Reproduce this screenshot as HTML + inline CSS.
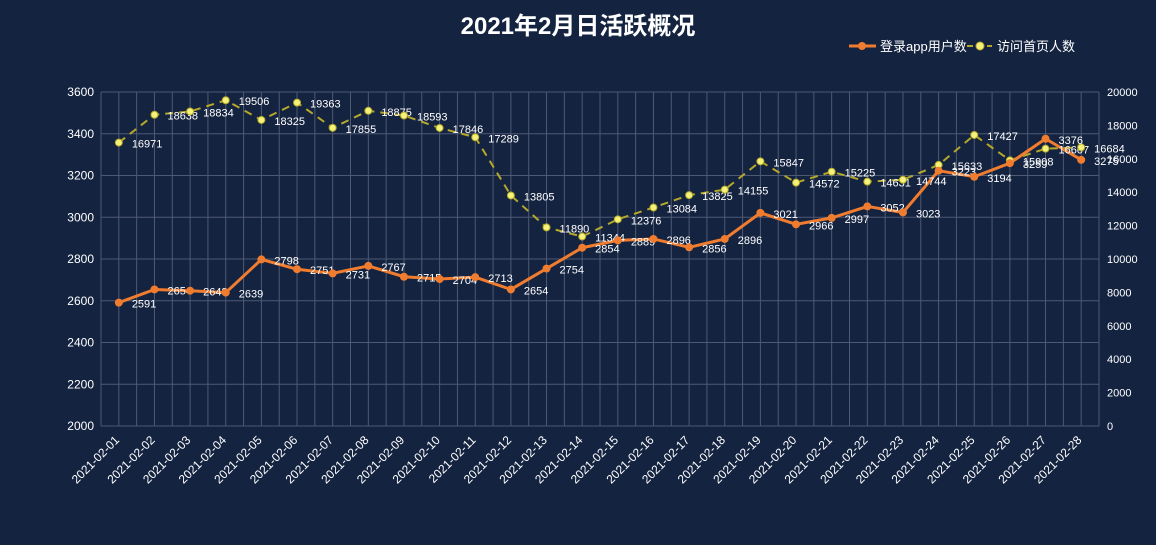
<!DOCTYPE html>
<html><head><meta charset="utf-8">
<style>
html,body{margin:0;padding:0;background:#142340;}
svg text{font-family:"Liberation Sans","Noto Sans CJK SC",sans-serif;}
</style></head>
<body>
<svg id="chart" width="1156" height="540" xmlns="http://www.w3.org/2000/svg">
<rect width="1156" height="540" fill="#142340"/>
<text x="578" y="34" text-anchor="middle" font-size="24" font-weight="bold" fill="#fff">2021年2月日活跃概况</text>
<g>
  <g>
    <line x1="849" y1="46" x2="876" y2="46" stroke="#f07c2f" stroke-width="3"/>
    <circle cx="862" cy="46" r="4" fill="#f07c2f"/>
    <text x="880" y="51" font-size="13" fill="#fff">登录app用户数</text>
  </g>
  <g>
    <line x1="967" y1="46" x2="992" y2="46" stroke="#b5a82a" stroke-width="2" stroke-dasharray="6,4"/>
    <circle cx="980" cy="46" r="4" fill="#f4f27a" stroke="#b5a82a"/>
    <text x="997" y="51" font-size="13" fill="#fff">访问首页人数</text>
  </g>
</g>
<g id="grid"></g>
<g id="axes"></g>
<g id="series"></g>
</svg>
<script>
const categories = ["2021-02-01","2021-02-02","2021-02-03","2021-02-04","2021-02-05","2021-02-06","2021-02-07","2021-02-08","2021-02-09","2021-02-10","2021-02-11","2021-02-12","2021-02-13","2021-02-14","2021-02-15","2021-02-16","2021-02-17","2021-02-18","2021-02-19","2021-02-20","2021-02-21","2021-02-22","2021-02-23","2021-02-24","2021-02-25","2021-02-26","2021-02-27","2021-02-28"];
const loginUsers = [2591,2654,2648,2639,2798,2751,2731,2767,2715,2704,2713,2654,2754,2854,2889,2896,2856,2896,3021,2966,2997,3052,3023,3223,3194,3259,3376,3275];
const homeVisits = [16971,18638,18834,19506,18325,19363,17855,18875,18593,17846,17289,13805,11890,11344,12376,13084,13825,14155,15847,14572,15225,14631,14744,15633,17427,15908,16607,16684];
const leftTicks = [2000,2200,2400,2600,2800,3000,3200,3400,3600];
const rightTicks = [0,2000,4000,6000,8000,10000,12000,14000,16000,18000,20000];

const NS="http://www.w3.org/2000/svg";
const L=101,R=1099,T=92,B=426;
const bw=(R-L)/categories.length;
const xPos=i=>L+bw*(i+0.5);
const yL=v=>B-(v-2000)/1600*(B-T);
const yR=v=>B-v/20000*(B-T);
function mk(tag,attrs,parent){const e=document.createElementNS(NS,tag);for(const k in attrs)e.setAttribute(k,attrs[k]);parent.appendChild(e);return e;}
const grid=document.getElementById('grid'),axes=document.getElementById('axes'),series=document.getElementById('series');

leftTicks.forEach(v=>{
  const l=mk('line',{x1:L,x2:R,y1:yL(v),y2:yL(v),stroke:'#4e5a74','stroke-width':1},grid);
  
  
  const t=mk('text',{x:L-7,y:yL(v)+4,'text-anchor':'end','font-size':12,fill:'#fff'},axes);
  t.textContent=v;
  
  
});
rightTicks.forEach(v=>{
  const t=mk('text',{x:R+8,y:yR(v)+4,'text-anchor':'start','font-size':11,fill:'#fff'},axes);
  t.textContent=v;
  
  
});
for(let i=0;i<=categories.length*2;i++){
  const x=L+bw*i/2;
  const l=mk('line',{x1:x,x2:x,y1:T,y2:B,stroke:'#4e5a74','stroke-width':1},grid);
  
  
}
categories.forEach((c,i)=>{
  const x=xPos(i),y=B+12;
  const t=mk('text',{x:x,y:y,'text-anchor':'end','font-size':12,fill:'#fff',transform:`rotate(-45 ${x+4} ${y})`},axes);
  t.textContent=c;
  
  
});

const p2=mk('polyline',{points:homeVisits.map((v,i)=>xPos(i)+','+yR(v)).join(' '),fill:'none',stroke:'#b5a82a','stroke-width':2,'stroke-dasharray':'8,6'},series);


const p1=mk('polyline',{points:loginUsers.map((v,i)=>xPos(i)+','+yL(v)).join(' '),fill:'none',stroke:'#f07c2f','stroke-width':3},series);



homeVisits.forEach((v,i)=>{
  const c=mk('circle',{cx:xPos(i),cy:yR(v),r:3.5,fill:'#f4f27a',stroke:'#b5a82a','stroke-width':1},series);
  
  
  const t=mk('text',{x:xPos(i)+13,y:yR(v)+5,'font-size':11,fill:'#fff'},series);
  t.textContent=v;
  
  
});
loginUsers.forEach((v,i)=>{
  const c=mk('circle',{cx:xPos(i),cy:yL(v),r:4,fill:'#f07c2f'},series);
  
  
  const t=mk('text',{x:xPos(i)+13,y:yL(v)+5,'font-size':11,fill:'#fff'},series);
  t.textContent=v;
  
  
});
</script>
</body></html>
